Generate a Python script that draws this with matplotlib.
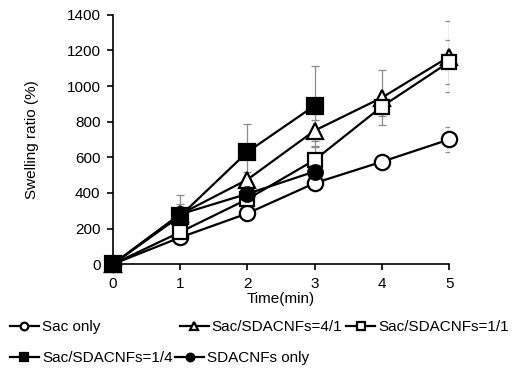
import matplotlib
matplotlib.use("Agg")
import matplotlib.pyplot as plt

plt.rcParams['font.family'] = ['Liberation Sans', 'DejaVu Sans']
plt.rcParams['font.size'] = 11

time_min = [0, 1, 2, 3, 4, 5]

sac_only = [0, 150, 285, 455, 575, 700]
sac_only_err = [0, 20, 25, 25, 25, 70]

sac_4_1 = [0, 280, 475, 750, 935, 1165]
sac_4_1_err = [0, 60, 40, 60, 153, 200]

sac_1_1 = [0, 180, 365, 585, 885, 1135]
sac_1_1_err = [0, 30, 30, 75, 55, 125]

sac_1_4 = [0, 270, 630, 890]
sac_1_4_err = [0, 118, 157, 225]

sdacnfs_only = [0, 280, 395, 520]
sdacnfs_only_err = [0, 40, 30, 40]

labels = ["Sac only", "Sac/SDACNFs=4/1", "Sac/SDACNFs=1/1",
          "Sac/SDACNFs=1/4", "SDACNFs only"]

fig = plt.figure(figsize=(5.18, 3.71), dpi=100)
ax = fig.add_axes([0.218, 0.288, 0.649, 0.672])

series = [
    (sac_only, sac_only_err, 'o', 'white', 11),
    (sac_4_1, sac_4_1_err, '^', 'white', 11),
    (sac_1_1, sac_1_1_err, 's', 'white', 10.5),
    (sac_1_4, sac_1_4_err, 's', 'black', 11),
    (sdacnfs_only, sdacnfs_only_err, 'o', 'black', 10.5),
]

handles = []
for vals, errs, mk, fc, ms in series:
    x = time_min[:len(vals)]
    ax.errorbar(x, vals, yerr=errs, fmt='none', ecolor='#8c8c8c',
                elinewidth=0.9, capsize=3, capthick=0.9, zorder=1)
    h, = ax.plot(x, vals, color='black', lw=1.6, marker=mk, ms=ms,
                 mfc=fc, mec='black', mew=1.6, zorder=3, clip_on=False)
    handles.append(h)

ax.set_xlim(0, 5)
ax.set_ylim(0, 1400)
ax.set_xticks(time_min)
ax.set_yticks(range(0, 1401, 200))
ax.spines['top'].set_visible(False)
ax.spines['right'].set_visible(False)
ax.spines['left'].set_linewidth(1.2)
ax.spines['bottom'].set_linewidth(1.2)
ax.tick_params(direction='out', length=4, width=1.2, pad=5)
ax.set_xlabel("Time(min)", labelpad=1)
ax.set_ylabel("Swelling ratio (%)", labelpad=20)

# legend entries placed like the original flow layout
positions = [(0.019, 0.119), (0.347, 0.119), (0.668, 0.119),
             (0.019, 0.035), (0.338, 0.035)]
for h, lab, (px, py) in zip(handles, labels, positions):
    lh, = plt.plot([], [], color='black', lw=1.6, marker=h.get_marker(),
                   ms=5.5, mfc=h.get_markerfacecolor(), mec='black', mew=1.6)
    fig.legend([lh], [lab], loc='center left', bbox_to_anchor=(px, py),
               frameon=False, handlelength=1.9, handletextpad=0.2,
               borderpad=0, borderaxespad=0, fontsize=11)

fig.savefig("out.png", dpi=100)
